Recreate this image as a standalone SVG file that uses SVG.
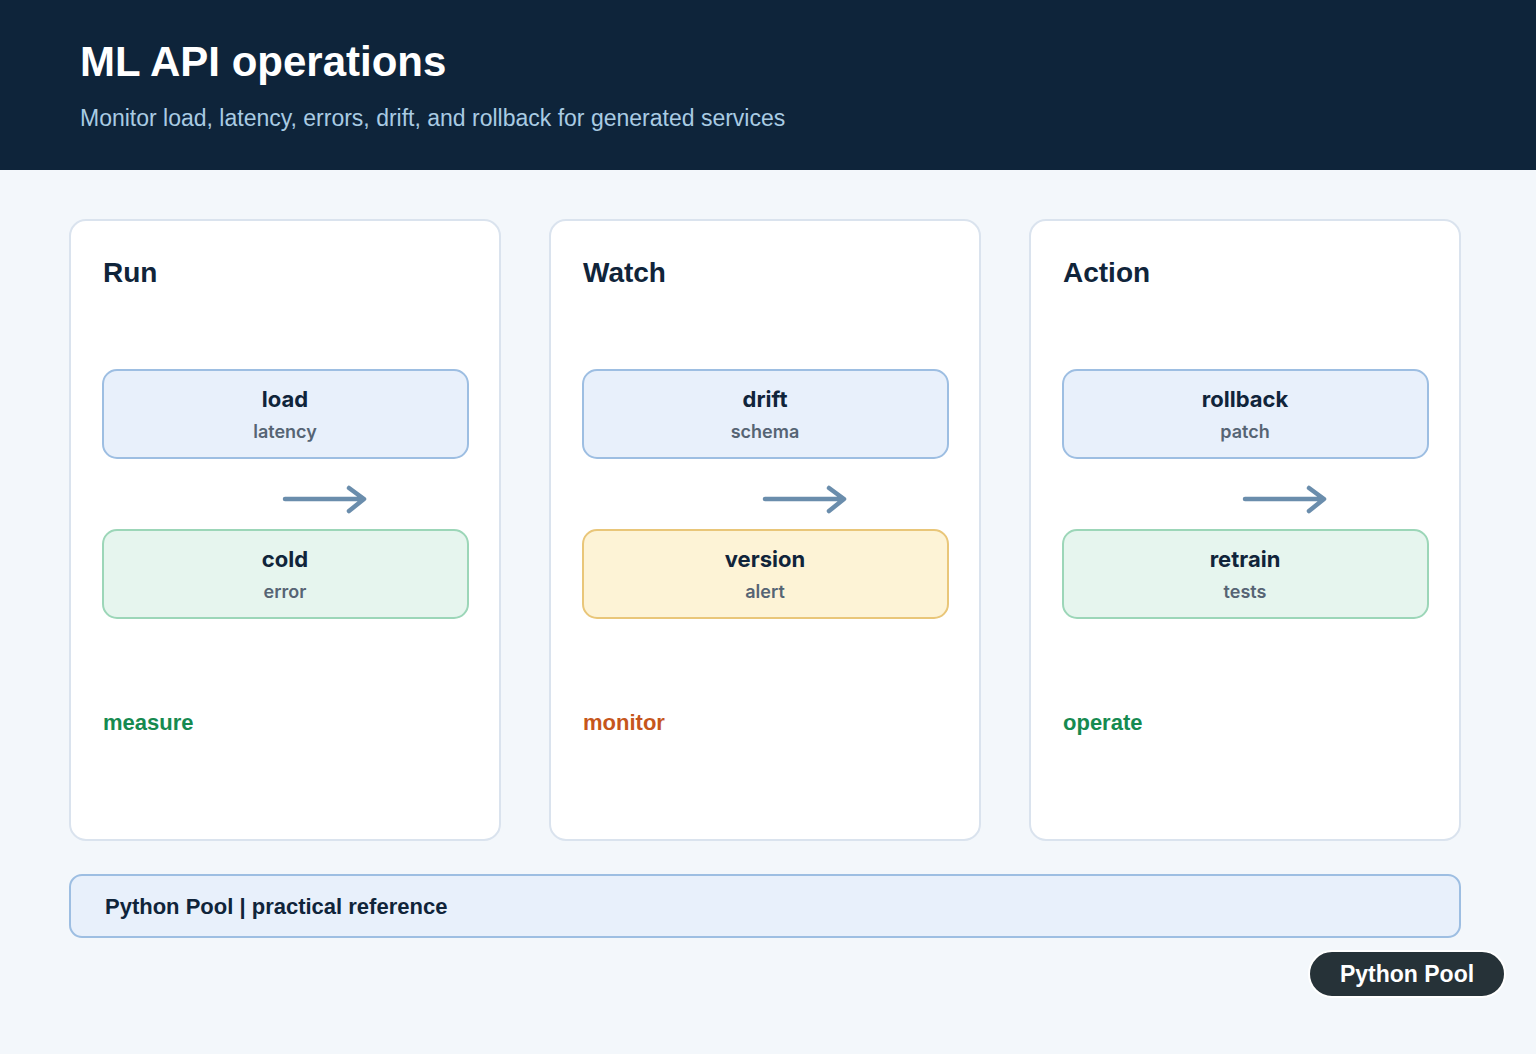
<svg xmlns="http://www.w3.org/2000/svg" width="1536" height="1054" viewBox="0 0 1536 1054">
<style>
.hd{font-family:"Liberation Sans",Arial,sans-serif;font-weight:700;font-size:42px;fill:#ffffff}
.sub{font-family:"Liberation Sans",Arial,sans-serif;font-size:23px;fill:#a9cbe3}
.card{fill:#ffffff;stroke:#dae3ee;stroke-width:2}
.ct{font-family:"Liberation Sans",Arial,sans-serif;font-weight:700;font-size:28px;fill:#10243a}
.bx{stroke-width:2}
.blue{fill:#e8f0fb;stroke:#9dbee2}
.green{fill:#e6f5ee;stroke:#9cd6b8}
.yellow{fill:#fdf3d6;stroke:#e9c679}
.t1{font-family:Inter,"Liberation Sans",sans-serif;font-weight:700;font-size:22px;fill:#10243a;text-anchor:middle}
.t2{font-family:Inter,"Liberation Sans",sans-serif;font-weight:600;font-size:18px;fill:#566474;text-anchor:middle}
.lab{font-family:"Liberation Sans",Arial,sans-serif;font-weight:700;font-size:22px}
.arr{fill:none;stroke:#6a8dac;stroke-width:4.5;stroke-linecap:round;stroke-linejoin:round}
.ft{font-family:"Liberation Sans",Arial,sans-serif;font-weight:700;font-size:22px;fill:#10243a}
.bd{font-family:"Liberation Sans",Arial,sans-serif;font-weight:700;font-size:23px;fill:#ffffff;text-anchor:middle}
</style>
<rect x="0" y="0" width="1536" height="1054" fill="#f3f7fb"/>
<g id="header">
<rect x="0" y="0" width="1536" height="170" fill="#0e243a"/>
<text x="80" y="76" class="hd">ML API operations</text>
<text x="80" y="126" class="sub">Monitor load, latency, errors, drift, and rollback for generated services</text>
</g>
<g id="card-run">
<rect x="70" y="220" width="430" height="620" rx="16" class="card"/>
<text x="103" y="282" class="ct">Run</text>
<text x="103" y="730" class="lab" fill="#168a50">measure</text>
</g>
<g id="node-load">
<rect x="103" y="370" width="365" height="88" rx="14" class="bx blue"/>
<text x="285" y="407" class="t1">load</text>
<text x="285" y="438" class="t2">latency</text>
</g>
<g id="node-cold">
<rect x="103" y="530" width="365" height="88" rx="14" class="bx green"/>
<text x="285" y="567" class="t1">cold</text>
<text x="285" y="598" class="t2">error</text>
</g>
<g id="card-watch">
<rect x="550" y="220" width="430" height="620" rx="16" class="card"/>
<text x="583" y="282" class="ct">Watch</text>
<text x="583" y="730" class="lab" fill="#c6561c">monitor</text>
</g>
<g id="node-drift">
<rect x="583" y="370" width="365" height="88" rx="14" class="bx blue"/>
<text x="765" y="407" class="t1">drift</text>
<text x="765" y="438" class="t2">schema</text>
</g>
<g id="node-version">
<rect x="583" y="530" width="365" height="88" rx="14" class="bx yellow"/>
<text x="765" y="567" class="t1">version</text>
<text x="765" y="598" class="t2">alert</text>
</g>
<g id="card-action">
<rect x="1030" y="220" width="430" height="620" rx="16" class="card"/>
<text x="1063" y="282" class="ct">Action</text>
<text x="1063" y="730" class="lab" fill="#168a50">operate</text>
</g>
<g id="node-rollback">
<rect x="1063" y="370" width="365" height="88" rx="14" class="bx blue"/>
<text x="1245" y="407" class="t1">rollback</text>
<text x="1245" y="438" class="t2">patch</text>
</g>
<g id="node-retrain">
<rect x="1063" y="530" width="365" height="88" rx="14" class="bx green"/>
<text x="1245" y="567" class="t1">retrain</text>
<text x="1245" y="598" class="t2">tests</text>
</g>
<g id="connectors">
<path d="M285 499 H363 M349 488 L364 499 L349 511" class="arr"/>
<path d="M765 499 H843 M829 488 L844 499 L829 511" class="arr"/>
<path d="M1245 499 H1323 M1309 488 L1324 499 L1309 511" class="arr"/>
</g>
<g id="footer">
<rect x="70" y="875" width="1390" height="62" rx="12" fill="#e8f0fb" stroke="#9dbee2" stroke-width="2"/>
<text x="105" y="914" class="ft">Python Pool | practical reference</text>
</g>
<g id="badge">
<rect x="1309" y="951" width="196" height="46" rx="23" fill="#263238" stroke="#ffffff" stroke-width="2"/>
<text x="1407" y="982" class="bd">Python Pool</text>
</g>
</svg>
